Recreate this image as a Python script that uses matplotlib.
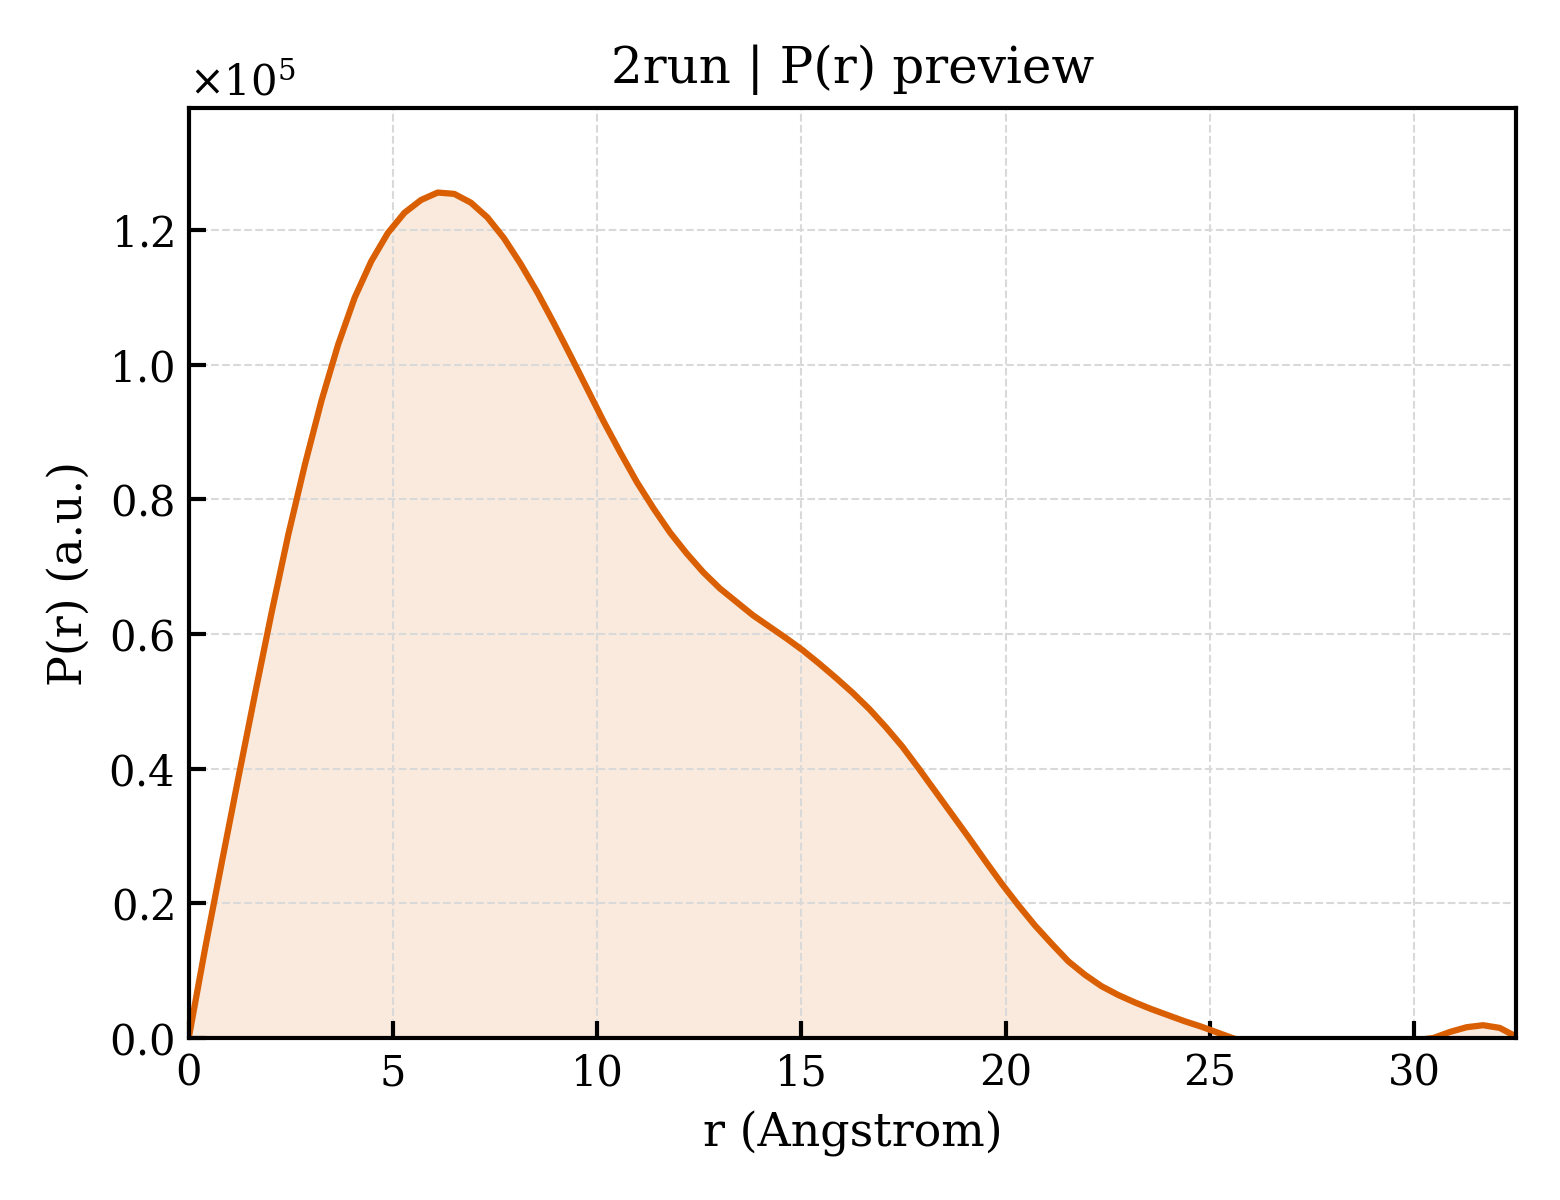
import numpy as np
import matplotlib
matplotlib.use('Agg')
import matplotlib.pyplot as plt

# P(r) curve, r in Angstrom, values in units of 1e5
r = np.linspace(0, 32.5, 81)
p_scaled = [
    0.000, 0.135, 0.262, 0.388, 0.512, 0.633, 0.748, 0.852, 0.947, 1.030,
    1.100, 1.154, 1.196, 1.226, 1.245, 1.256, 1.254, 1.241, 1.219, 1.188,
    1.150, 1.108, 1.062, 1.014, 0.965, 0.916, 0.870, 0.826, 0.787, 0.751,
    0.720, 0.692, 0.668, 0.648, 0.628, 0.611, 0.594, 0.576, 0.556, 0.535,
    0.513, 0.489, 0.462, 0.433, 0.400, 0.366, 0.332, 0.298, 0.263, 0.229,
    0.197, 0.167, 0.140, 0.114, 0.094, 0.077, 0.064, 0.053, 0.043, 0.034,
    0.025, 0.017, 0.008, -0.001, -0.006, -0.011, -0.015, -0.018, -0.020, -0.020,
    -0.019, -0.016, -0.012, -0.007, -0.003, 0.000, 0.009, 0.016, 0.019, 0.015,
    0.002,
]
pr = np.array(p_scaled) * 1e5

title = '2run | P(r) preview'
color = '#d95f02'

plt.rcParams['font.family'] = 'DejaVu Serif'
plt.rcParams['mathtext.fontset'] = 'dejavuserif'

fig, ax = plt.subplots(figsize=(5.2, 4), dpi=300)
fig.subplots_adjust(left=0.121, right=0.972, bottom=0.135, top=0.91)

ax.fill_between(r, pr, 0, color=color, alpha=0.13, linewidth=0)
ax.plot(r, pr, color=color, lw=1.5)

ax.set_xlim(r.min(), r.max())
ax.set_ylim(0, pr.max() * 1.1)
ax.ticklabel_format(axis='y', style='sci', scilimits=(0, 0), useMathText=True)

ax.set_xlabel('r (Angstrom)', fontsize=11)
ax.set_ylabel('P(r) (a.u.)', fontsize=11)
ax.set_title(title, fontsize=12)

ax.tick_params(direction='in', length=4, width=1, labelsize=10)
ax.yaxis.get_offset_text().set_fontsize(10)
for s in ax.spines.values():
    s.set_linewidth(1)
ax.grid(True, ls='--', lw=0.5, color='#d9d9d9')

fig.savefig('out.png', dpi=300)
